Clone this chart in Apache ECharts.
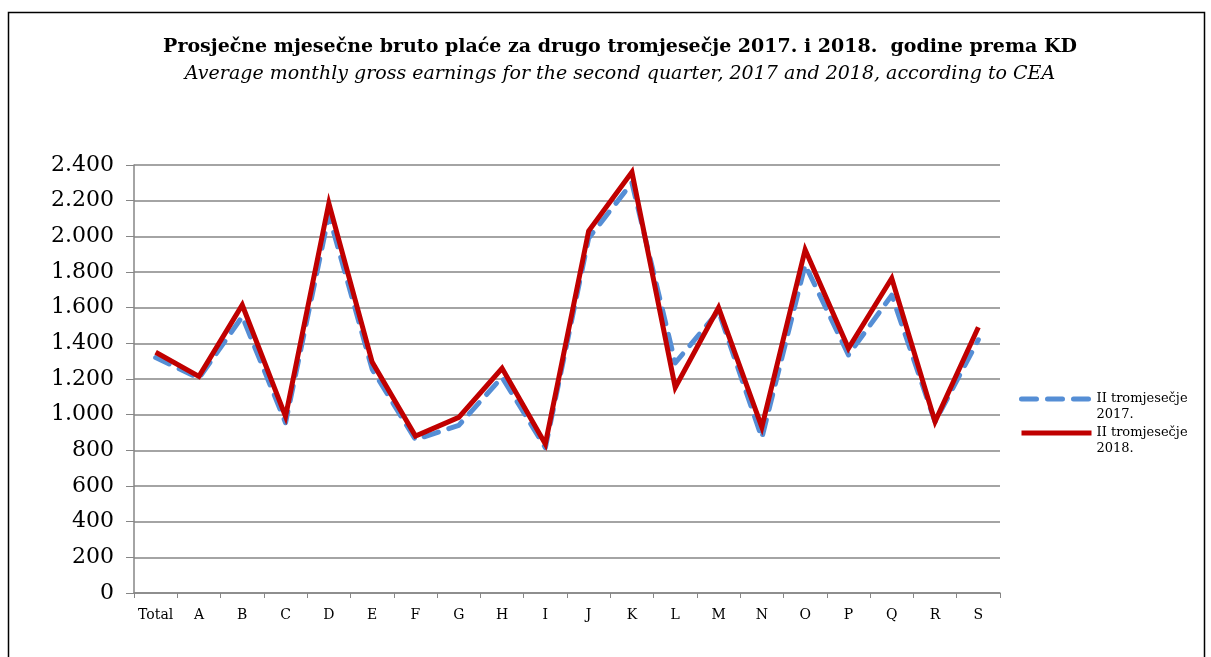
<!DOCTYPE html>
<html>
<head>
<meta charset="utf-8">
<script src="https://cdn.jsdelivr.net/npm/echarts@6/dist/echarts.min.js"></script>
<style>
  html, body { margin: 0; padding: 0; background: #fff; }
  #chart { width: 1211px; height: 657px; }
</style>
</head>
<body>
<div id="chart"></div>
<script>
  // categories (KD sections)
  const categories = ['Total', 'A', 'B', 'C', 'D', 'E', 'F', 'G', 'H', 'I',
                      'J', 'K', 'L', 'M', 'N', 'O', 'P', 'Q', 'R', 'S'];
  // II quarter 2017
  const q2017 = [1320, 1205, 1550, 955, 2120, 1255, 860, 940, 1210, 815,
                 1990, 2300, 1290, 1580, 870, 1840, 1335, 1670, 960, 1420];
  // II quarter 2018
  const q2018 = [1350, 1215, 1615, 990, 2185, 1295, 880, 985, 1260, 835,
                 2030, 2360, 1153, 1600, 930, 1925, 1372, 1765, 961, 1490];
  const yTicks = [0, 200, 400, 600, 800, 1000, 1200, 1400, 1600, 1800, 2000, 2200, 2400];

  const serif = '"DejaVu Serif", "Liberation Serif", serif';
  const chart = echarts.init(document.getElementById('chart'));

  chart.setOption({
    animation: false,
    graphic: [{
      type: 'rect',
      shape: { x: 8.5, y: 12.5, width: 1196, height: 660 },
      style: { fill: 'none', stroke: '#000', lineWidth: 1.5 },
      silent: true
    }],
    title: {
      text: 'Prosječne mjesečne bruto plaće za drugo tromjesečje 2017. i 2018.  godine prema KD',
      subtext: 'Average monthly gross earnings for the second quarter, 2017 and 2018, according to CEA',
      left: 615,
      textAlign: 'center',
      top: 33,
      itemGap: 8,
      textStyle: { fontFamily: serif, fontSize: 19, fontWeight: 'bold', color: '#000' },
      subtextStyle: { fontFamily: serif, fontSize: 19, fontStyle: 'italic', color: '#000' }
    },
    legend: {
      orient: 'vertical',
      left: 1014,
      top: 370,
      itemWidth: 70,
      itemHeight: 14,
      itemGap: -14,
      itemStyle: { opacity: 0 },
      lineStyle: { width: 5 },
      data: ['II tromjesečje 2017.', 'II tromjesečje 2018.'],
      formatter: function (name) {
        // blank first line so the label sits just below the key line
        return '\n' + name.replace(' 20', '\n20');
      },
      textStyle: { fontFamily: serif, fontSize: 13, color: '#000', lineHeight: 16 }
    },
    grid: { left: 134, right: 211, top: 165, bottom: 64 },
    xAxis: {
      type: 'category',
      data: categories,
      boundaryGap: true,
      axisLine: { lineStyle: { color: '#868686', width: 1.5 } },
      axisTick: { show: true, length: 5, lineStyle: { color: '#868686' } },
      axisLabel: { fontFamily: serif, fontSize: 14, color: '#000', margin: 15, interval: 0 }
    },
    yAxis: {
      type: 'value',
      min: yTicks[0],
      max: yTicks[yTicks.length - 1],
      interval: yTicks[1] - yTicks[0],
      axisLine: { show: true, lineStyle: { color: '#868686', width: 1.5 } },
      axisTick: { show: true, length: 8, lineStyle: { color: '#868686' } },
      splitLine: { lineStyle: { color: '#868686', width: 1.5 } },
      axisLabel: {
        fontFamily: serif, fontSize: 22, color: '#000', margin: 20,
        formatter: function (v) {
          return String(v).replace(/\B(?=(\d{3})+(?!\d))/g, '.');
        }
      }
    },
    series: [{
      name: 'II tromjesečje 2017.',
      type: 'line',
      data: q2017,
      symbol: 'none',
      itemStyle: { color: '#558ED5' },
      lineStyle: { color: '#558ED5', width: 5, type: [15, 11], cap: 'round', join: 'round' }
    }, {
      name: 'II tromjesečje 2018.',
      type: 'line',
      data: q2018,
      symbol: 'none',
      itemStyle: { color: '#C00000' },
      lineStyle: { color: '#C00000', width: 5, join: 'miter' }
    }]
  });
</script>
</body>
</html>
